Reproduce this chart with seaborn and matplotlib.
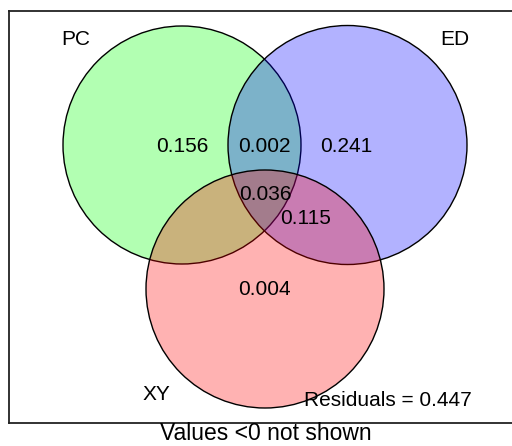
import matplotlib
matplotlib.use("Agg")
import seaborn as sns
from matplotlib import pyplot as plt
from matplotlib.patches import Circle

# fitted euler layout (plot units ~ pixels, y grows downward)
sets = ["PC", "ED", "XY"]
set_x = [182, 347.5, 265]
set_y = [145, 145, 289]
set_r = [119, 119.5, 119]
set_colors = ["#00ff00", "#0000ff", "#ff0000"]
label_x = [75.5, 455, 156]
label_y = [39.5, 39.5, 394.5]

# region proportions and where they were printed
regions = ["PC", "PC&ED", "ED", "PC&ED&XY", "ED&XY", "XY"]
region_vals = [0.156, 0.002, 0.241, 0.036, 0.115, 0.004]
region_x = [182.5, 264.5, 346.5, 265, 306, 264.5]
region_y = [147, 147, 147, 194.5, 218, 289.5]

residuals = 0.447

sns.set_theme(style="white", rc={"text.color": "black"})
plt.rcParams['font.family'] = ['Liberation Sans', 'DejaVu Sans']

fig = plt.figure(figsize=(5.12, 4.46), dpi=100)
ax = fig.add_axes([9 / 512, 23 / 446, 1.0, 412 / 446])
ax.set_xlim(9, 521)
ax.set_ylim(423, 11)

for name, cx, cy, r, col in zip(sets, set_x, set_y, set_r, set_colors):
    rgba = matplotlib.colors.to_rgba(col, 0.3)
    ax.add_patch(Circle((cx, cy), r, facecolor=rgba, edgecolor="black", lw=1.0))

for name, lx, ly in zip(sets, label_x, label_y):
    ax.text(lx, ly, name, fontsize=15, ha="center", va="center")

for val, rx, ry in zip(region_vals, region_x, region_y):
    ax.text(rx, ry, f"{val:.3f}", fontsize=15, ha="center", va="center")

ax.text(388, 401, f"Residuals = {residuals:.3f}", fontsize=15, ha="center", va="center")

ax.set_xticks([])
ax.set_yticks([])
for side in ["left", "top", "bottom"]:
    ax.spines[side].set_visible(True)
    ax.spines[side].set_color("#222222")
    ax.spines[side].set_linewidth(1.3)
ax.spines["right"].set_visible(False)

fig.text(266 / 512, 0.5 / 446, "Values <0 not shown", fontsize=16.5, ha="center", va="bottom")

fig.savefig("out.png", dpi=100)
